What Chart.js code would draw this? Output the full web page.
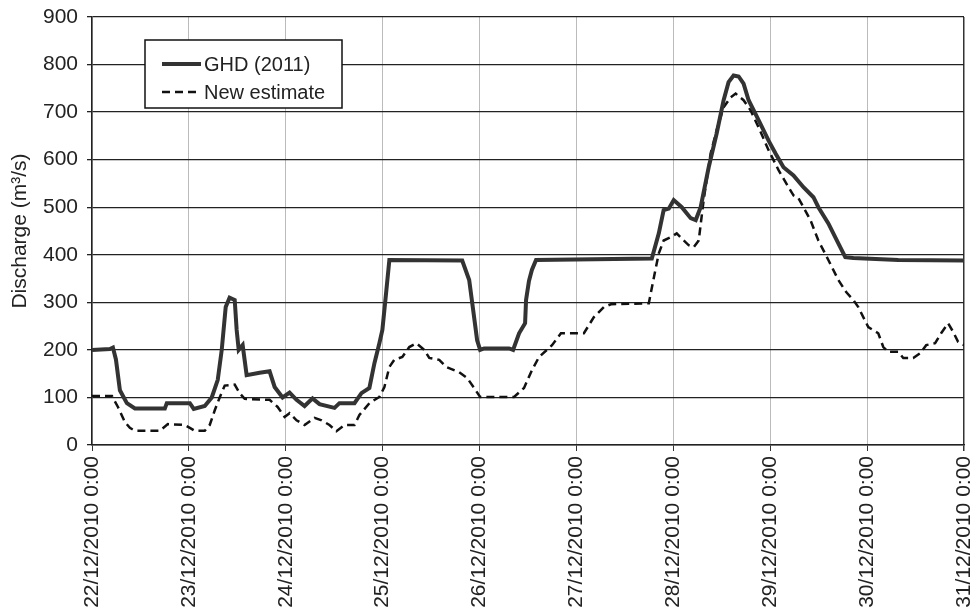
<!DOCTYPE html>
<html>
<head>
<meta charset="utf-8">
<script src="https://cdn.jsdelivr.net/npm/chart.js@4"></script>
<style>
  html, body { margin: 0; padding: 0; background: #fff; }
  #wrap { width: 976px; height: 611px; }
</style>
</head>
<body>
<div id="wrap"><canvas id="myChart" width="976" height="611"></canvas></div>
<script>
// x values are days after 22/12/2010 0:00
const dateLabels = ['22/12/2010 0:00', '23/12/2010 0:00', '24/12/2010 0:00', '25/12/2010 0:00',
    '26/12/2010 0:00', '27/12/2010 0:00', '28/12/2010 0:00', '29/12/2010 0:00',
    '30/12/2010 0:00', '31/12/2010 0:00'];

const ghdDays = [0, 0.185, 0.216, 0.247, 0.288, 0.36, 0.443, 0.752, 0.772, 1.01, 1.05, 1.164, 1.236, 1.298,
    1.339, 1.38, 1.42, 1.473, 1.493, 1.514, 1.555, 1.596, 1.73, 1.833, 1.885, 1.967, 2.039, 2.111, 2.194,
    2.276, 2.348, 2.503, 2.554, 2.709, 2.781, 2.863, 2.915, 2.966, 2.997, 3.038, 3.069, 3.821, 3.893, 3.934,
    3.975, 4.006, 4.047, 4.305, 4.346, 4.408, 4.47, 4.48, 4.51, 4.54, 4.583, 5.778, 5.85, 5.9, 5.953, 6.004,
    6.087, 6.179, 6.231, 6.282, 6.365, 6.447, 6.519, 6.57, 6.622, 6.674, 6.725, 6.777, 6.88, 6.983, 7.055,
    7.137, 7.24, 7.343, 7.446, 7.497, 7.6, 7.703, 7.775, 7.858, 8.321, 9];
const ghdFlow = [200, 202, 205, 180, 115, 88, 77, 77, 88, 88, 76, 82, 100, 137,
    200, 290, 310, 305, 242, 200, 210, 147, 152, 155, 122, 100, 110, 95, 82,
    98, 86, 78, 88, 88, 109, 120, 172, 214, 242, 325, 389, 388, 347, 284,
    220, 200, 203, 203, 200, 235, 256, 305, 345, 368, 389, 392, 445, 494, 497, 515,
    500, 477, 473, 500, 584, 655, 725, 763, 777, 775, 760, 725, 683, 640, 613,
    584, 567, 542, 521, 500, 466, 424, 395, 393, 389, 388];

const newDays = [0, 0.206, 0.268, 0.34, 0.391, 0.443, 0.7, 0.783, 0.958, 1.01, 1.06, 1.164, 1.215, 1.267,
    1.318, 1.37, 1.473, 1.524, 1.576, 1.833, 1.916, 1.988, 2.039, 2.111, 2.194, 2.297, 2.37, 2.451, 2.523,
    2.606, 2.709, 2.76, 2.863, 2.966, 3.018, 3.069, 3.12, 3.203, 3.275, 3.347, 3.43, 3.481, 3.584, 3.656,
    3.79, 3.872, 3.944, 4.006, 4.356, 4.459, 4.542, 4.614, 4.748, 4.84, 5.077, 5.18, 5.283, 5.355, 5.747,
    5.767, 5.808, 5.85, 5.9, 5.973, 6.035, 6.159, 6.21, 6.262, 6.313, 6.385, 6.447, 6.519, 6.591, 6.643,
    6.725, 6.797, 6.88, 6.983, 7.086, 7.189, 7.24, 7.291, 7.343, 7.415, 7.497, 7.6, 7.703, 7.786, 7.858,
    7.909, 8.012, 8.115, 8.167, 8.218, 8.321, 8.373, 8.476, 8.548, 8.61, 8.702, 8.764, 8.836, 8.888,
    8.939, 9];
const newFlow = [103, 103, 80, 48, 36, 30, 30, 44, 42, 36, 30, 30, 42, 73,
    100, 125, 127, 109, 97, 95, 80, 59, 67, 52, 42, 57, 52, 42, 29,
    42, 42, 63, 88, 101, 122, 164, 179, 185, 206, 214, 200, 183, 179, 164,
    153, 141, 120, 101, 101, 120, 158, 185, 210, 235, 235, 269, 290, 296, 298,
    319, 361, 403, 430, 437, 445, 420, 416, 430, 515, 613, 662, 710, 731, 739,
    725, 704, 668, 620, 578, 542, 525, 519, 500, 473, 430, 389, 347, 321, 305,
    290, 248, 235, 206, 196, 196, 183, 183, 193, 210, 214, 235, 256, 238,
    217, 210];

const toPoints = (xs, ys) => xs.map((x, i) => ({ x: x, y: ys[i] }));

const fontFamily = '"Liberation Sans", Arial, sans-serif';

// legend drawn inside the plot, boxed like the original
const boxLegend = {
    id: 'boxLegend',
    afterDraw(chart) {
        const ctx = chart.ctx;
        const area = chart.chartArea;
        const left = area.left + 53, top = area.top + 23;
        const w = 197, h = 68;
        ctx.save();
        ctx.fillStyle = '#fff';
        ctx.fillRect(left, top, w, h);
        ctx.strokeStyle = '#111';
        ctx.lineWidth = 1.5;
        ctx.strokeRect(left, top, w, h);
        ctx.font = '20px ' + fontFamily;
        ctx.textBaseline = 'middle';
        chart.data.datasets.forEach((ds, i) => {
            const y = top + 24 + i * 28;
            ctx.beginPath();
            ctx.strokeStyle = ds.borderColor;
            ctx.lineWidth = ds.borderWidth;
            ctx.setLineDash(ds.borderDash || []);
            ctx.moveTo(left + 17, y);
            ctx.lineTo(left + 56, y);
            ctx.stroke();
            ctx.setLineDash([]);
            ctx.fillStyle = '#222';
            ctx.fillText(ds.label, left + 59, y + 1);
        });
        ctx.restore();
    }
};

const config = {
    type: 'line',
    data: {
        datasets: [{
            label: 'GHD (2011)',
            data: toPoints(ghdDays, ghdFlow),
            borderColor: '#333',
            borderWidth: 4,
            pointRadius: 0,
            tension: 0
        }, {
            label: 'New estimate',
            data: toPoints(newDays, newFlow),
            borderColor: '#111',
            borderWidth: 2.5,
            borderDash: [8, 5],
            pointRadius: 0,
            tension: 0
        }]
    },
    options: {
        responsive: false,
        animation: false,
        layout: { padding: { top: 17, right: 0, left: 8, bottom: 0 } },
        plugins: {
            legend: { display: false },
            tooltip: { enabled: false }
        },
        scales: {
            x: {
                type: 'linear',
                min: 0,
                max: 9,
                afterFit: function(scale) {
                    scale.height = 166;
                    scale.paddingLeft = 0;
                    scale.paddingRight = 12;
                },
                ticks: {
                    stepSize: 1,
                    autoSkip: false,
                    minRotation: 90,
                    maxRotation: 90,
                    padding: 5,
                    color: '#222',
                    font: { family: fontFamily, size: 21 },
                    callback: function(value) { return dateLabels[value]; }
                },
                grid: {
                    color: function(c) { return c.index === dateLabels.length - 1 ? '#333' : '#bbb'; },
                    lineWidth: function(c) { return c.index === dateLabels.length - 1 ? 1.5 : 1; },
                    tickColor: '#333',
                    tickLength: 6
                },
                border: { color: '#222', width: 1.5 }
            },
            y: {
                min: 0,
                max: 900,
                afterFit: function(scale) {
                    scale.width = 84;
                    scale.paddingTop = 0;
                    scale.paddingBottom = 0;
                },
                ticks: {
                    stepSize: 100,
                    padding: 9,
                    color: '#222',
                    font: { family: fontFamily, size: 21 }
                },
                grid: {
                    color: '#222',
                    lineWidth: 1.3,
                    tickColor: '#222',
                    tickLength: 5
                },
                border: { color: '#222', width: 1.5 },
                title: {
                    display: true,
                    text: 'Discharge (m³/s)',
                    color: '#222',
                    padding: { top: 0, bottom: 4 },
                    font: { family: fontFamily, size: 21 }
                }
            }
        }
    },
    plugins: [boxLegend]
};

const ctx = document.getElementById('myChart').getContext('2d');
new Chart(ctx, config);
</script>
</body>
</html>
